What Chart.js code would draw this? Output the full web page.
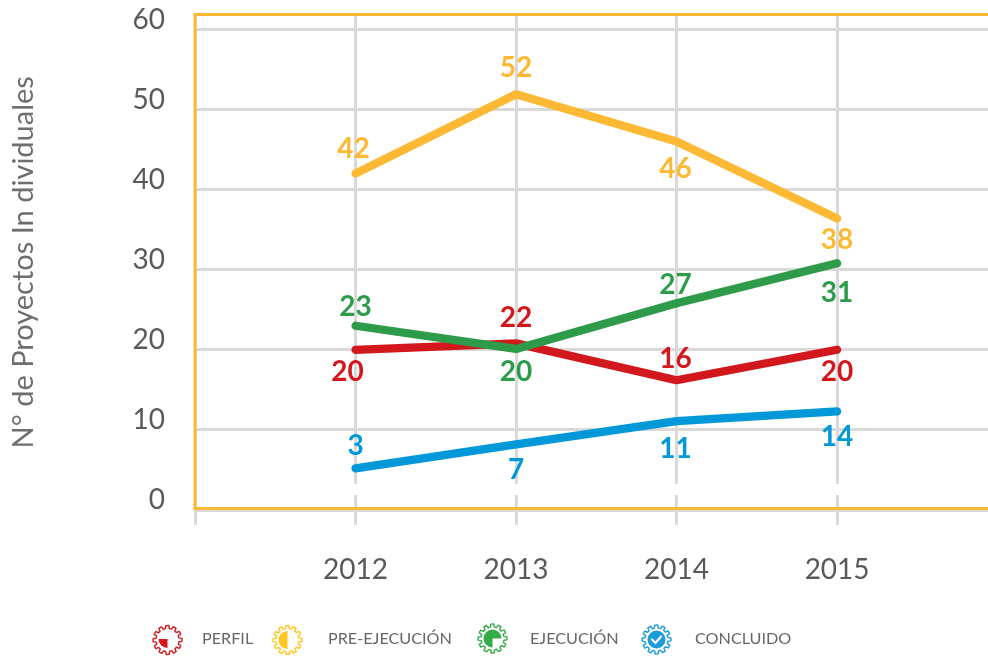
<!DOCTYPE html>
<html>
<head>
<meta charset="utf-8">
<style>html,body{margin:0;padding:0;background:#fff}canvas{display:block}</style>
<script src="https://cdn.jsdelivr.net/npm/chart.js@4/dist/chart.umd.min.js"></script>
</head>
<body>
<canvas id="c" width="988" height="656"></canvas>
<script>
const years = [2012, 2013, 2014, 2015];
const seriesNames = ['PERFIL', 'PRE-EJECUCIÓN', 'EJECUCIÓN', 'CONCLUIDO'];
const perfil = [20, 20.8, 16.2, 20];
const preEjecucion = [42, 51.9, 46, 36.4];
const ejecucion = [23, 20.1, 25.8, 30.8];
const concluido = [5.2, 8.2, 11.1, 12.3];
const perfilLabels = ['20', '22', '16', '20'];
const preEjecucionLabels = ['42', '52', '46', '38'];
const ejecucionLabels = ['23', '20', '27', '31'];
const concluidoLabels = ['3', '7', '11', '14'];
const yTitle = 'N° de Proyectos In dividuales';

const RED = '#d2181d', YEL = '#fdb933', GRN = '#2e9b4a', BLU = '#0098d8';
const TXT = '#595959', GRID = '#d9d9d9';
const FONT = 'Lato, Carlito, sans-serif';

function pts(vals){ return vals.map((v,i)=>({x:years[i],y:v})); }
function ds(name, vals, col, labels, dy, dx, order){
  return {label:name,data:pts(vals),borderColor:col,backgroundColor:col,borderWidth:8.3,order:order,
    borderCapStyle:'round',borderJoinStyle:'round',tension:0,pointRadius:0,pointHoverRadius:0,
    fill:false,clip:false,valueLabels:labels,labelDy:dy,labelDx:dx};
}

const frame = {
  id:'frame',
  beforeDatasetsDraw(chart){
    const {ctx,chartArea:a,scales:{y}} = chart;
    ctx.save();
    ctx.fillStyle='#fff';
    const y1=y.getPixelForValue(3.25), y2=y.getPixelForValue(1.87);
    ctx.fillRect(a.left+3,y1,a.right-a.left,y2-y1);
    ctx.strokeStyle=YEL; ctx.lineWidth=3;
    ctx.beginPath();
    ctx.moveTo(a.right,a.top); ctx.lineTo(a.left,a.top);
    ctx.lineTo(a.left,a.bottom-1.5); ctx.lineTo(a.right,a.bottom-1.5);
    ctx.stroke();
    ctx.restore();
  }
};

const valueLabels = {
  id:'valueLabels',
  afterDatasetsDraw(chart){
    const {ctx} = chart;
    ctx.save();
    ctx.font='bold 28px '+FONT; ctx.textAlign='center'; ctx.textBaseline='middle';
    chart.data.datasets.forEach((d,i)=>{
      const m=chart.getDatasetMeta(i);
      ctx.fillStyle=d.borderColor;
      m.data.forEach((p,j)=>ctx.fillText(d.valueLabels[j],p.x+d.labelDx[j],p.y+d.labelDy[j]));
    });
    ctx.restore();
  }
};

function gear(ctx,cx,cy,col){
  const n=12,R=14.5,r=11.5;
  ctx.save();
  ctx.translate(cx,cy);
  ctx.strokeStyle=col; ctx.lineWidth=1.4; ctx.lineJoin='round';
  ctx.beginPath();
  for(let i=0;i<n;i++){
    const t=i/n*2*Math.PI, s=2*Math.PI/n;
    const seq=[[r,-0.35],[R,-0.22],[R,0.18],[r,0.3]];
    seq.forEach(([rad,f],k)=>{
      const a=t+f*s;
      const X=rad*Math.cos(a),Y=rad*Math.sin(a);
      (i===0&&k===0)?ctx.moveTo(X,Y):ctx.lineTo(X,Y);
    });
  }
  ctx.closePath(); ctx.stroke();
  ctx.restore();
}
function pie(ctx,cx,cy,r,a0,a1,col){
  ctx.save(); ctx.fillStyle=col; ctx.beginPath(); ctx.moveTo(cx,cy);
  ctx.arc(cx,cy,r,a0,a1); ctx.closePath(); ctx.fill(); ctx.restore();
}
const legendItems = [
  {x:167.5,y:640,tx:202,col:'#d2181d',draw(c,x,y){gear(c,x,y,this.col);pie(c,x,y-1,9,Math.PI/2,Math.PI,this.col);}},
  {x:287.5,y:640,tx:328,col:'#ffc61e',draw(c,x,y){gear(c,x,y,this.col);pie(c,x,y,9,Math.PI/2,Math.PI*1.5,this.col);}},
  {x:492.5,y:638.5,tx:530,col:'#33ad47',draw(c,x,y){gear(c,x,y,this.col);pie(c,x,y,9,Math.PI/2,Math.PI*2,this.col);}},
  {x:656.5,y:639.5,tx:695,col:'#1a9bdc',draw(c,x,y){
    gear(c,x,y,this.col);pie(c,x,y,9,0,Math.PI*2,this.col);
    c.save();c.strokeStyle='#fff';c.lineWidth=2.2;c.lineCap='round';c.beginPath();
    c.moveTo(x-4.5,y);c.lineTo(x-1,y+3.5);c.lineTo(x+4.5,y-3);c.stroke();c.restore();}}
];
const iconLegend = {
  id:'iconLegend',
  afterDraw(chart){
    const {ctx}=chart;
    ctx.save();
    legendItems.forEach((it,i)=>{
      it.draw(ctx,it.x,it.y);
      ctx.font='16.2px '+FONT; ctx.fillStyle='#666'; ctx.textAlign='left'; ctx.textBaseline='middle';
      ctx.fillText(seriesNames[i],it.tx,639);
    });
    ctx.restore();
  }
};

function noPadding(s){ s.paddingTop=0; s.paddingBottom=0; s.paddingLeft=0; s.paddingRight=0; }

new Chart(document.getElementById('c'),{
  type:'line',
  data:{datasets:[
    ds(seriesNames[0],perfil,RED,perfilLabels,[22,-25,-21,22],[-8,0,-1,0],4),
    ds(seriesNames[1],preEjecucion,YEL,preEjecucionLabels,[-25,-26,27,22],[-2,0,-1,0],3),
    ds(seriesNames[2],ejecucion,GRN,ejecucionLabels,[-19,23,-18,30],[0,0,-1,0],2),
    ds(seriesNames[3],concluido,BLU,concluidoLabels,[-22,26,28,26],[0,0,-1,0],1)
  ]},
  options:{
    responsive:false,animation:false,
    events:[],
    layout:{padding:{top:14.5}},
    plugins:{legend:{display:false},tooltip:{enabled:false},title:{display:false}},
    scales:{
      x:{type:'linear',min:2011,max:2015.94,
        border:{display:false},
        grid:{color:GRID,lineWidth:3,drawTicks:true,tickLength:15,tickColor:GRID},
        ticks:{stepSize:1,includeBounds:false,autoSkip:false,maxRotation:0,padding:28,
          color:TXT,font:{family:FONT,size:28},
          callback:v=>years.includes(v)?String(v):''},
        afterFit(s){s.height=146;noPadding(s);}
      },
      y:{type:'linear',min:0,max:61.85,
        border:{display:false},
        grid:{color:GRID,lineWidth:3,drawTicks:false},
        ticks:{stepSize:10,includeBounds:false,padding:30,color:TXT,font:{family:FONT,size:28,lineHeight:0.7},
          callback:v=>[String(v),'']},
        title:{display:true,text:yTitle,color:'#6e6e6e',font:{family:FONT,size:29},padding:{top:6,bottom:0}},
        afterFit(s){s.width=195;noPadding(s);}
      }
    }
  },
  plugins:[frame,valueLabels,iconLegend]
});
</script>
</body>
</html>
